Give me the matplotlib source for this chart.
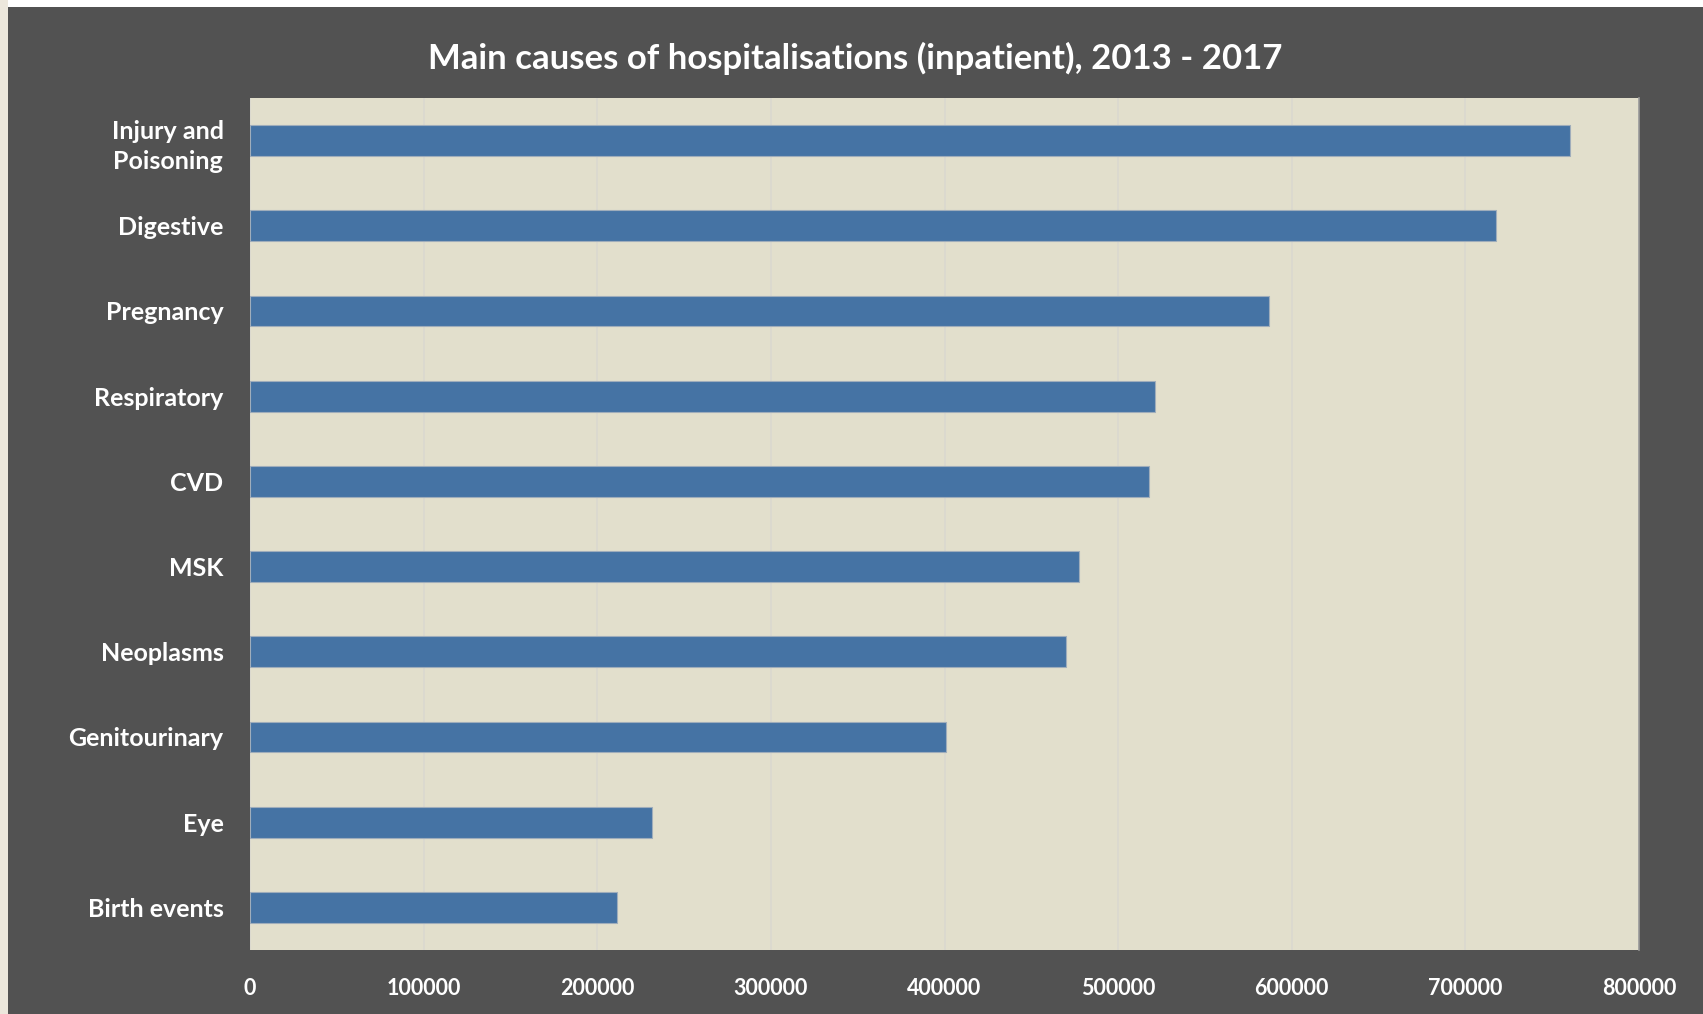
import matplotlib
matplotlib.use('Agg')
from matplotlib import pyplot as plt
from matplotlib.patches import Rectangle
import numpy as np

# 데이터
causes = ['Injury and\nPoisoning', 'Digestive', 'Pregnancy', 'Respiratory', 'CVD',
          'MSK', 'Neoplasms', 'Genitourinary', 'Eye', 'Birth events']
admissions = [760000, 717500, 587000, 521500, 517500,
              477500, 470000, 401000, 231800, 211500]
x_ticks = [0, 100000, 200000, 300000, 400000, 500000, 600000, 700000, 800000]

plt.rcParams['font.family'] = ['Lato', 'DejaVu Sans']

W, H = 1703, 1014
fig = plt.figure(figsize=(W / 100, H / 100), dpi=100)
fig.patch.set_facecolor('white')

# 배경 (왼쪽 베이지 띠 + 어두운 패널)
fig.patches.append(Rectangle((0, 0), 8 / W, 1, transform=fig.transFigure,
                             facecolor='#ece7dc', edgecolor='none', zorder=-2))
fig.patches.append(Rectangle((8 / W, 0), 1 - 8 / W, 1 - 7 / H, transform=fig.transFigure,
                             facecolor='#525252', edgecolor='none', zorder=-1))

ax = fig.add_axes([250 / W, 1 - 950 / H, (1639 - 250) / W, (950 - 98) / H])
ax.set_facecolor('#e2dfcc')

pos = np.arange(len(causes))
ax.barh(pos, admissions, height=0.36, color='#4573a4',
        edgecolor='#9fadbb', linewidth=0.8, zorder=3)

ax.set_xlim(0, 800000)
ax.set_ylim(len(causes) - 0.5, -0.5)
ax.set_xticks(x_ticks)
ax.set_xticklabels([str(v) for v in x_ticks])
ax.set_yticks(pos)
ax.set_yticklabels(causes)

ax.grid(axis='x', color='#dad8cf', linewidth=1.2, zorder=0)
ax.set_axisbelow(True)

for s in ['top', 'left', 'bottom']:
    ax.spines[s].set_visible(False)
ax.spines['right'].set_color('#9a9a9a')
ax.spines['right'].set_linewidth(1.2)

ax.tick_params(axis='both', length=0, colors='white')
ax.tick_params(axis='x', pad=20, labelsize=15.5)
ax.tick_params(axis='y', pad=19, labelsize=18)
for lab in ax.get_xticklabels() + ax.get_yticklabels():
    lab.set_fontweight('bold')
    lab.set_color('white')
for lab in ax.get_yticklabels():
    lab.set_horizontalalignment('right')
    lab.set_multialignment('center')
    lab.set_linespacing(1.4)

fig.text(855 / W, 1 - 58 / H, 'Main causes of hospitalisations (inpatient), 2013 - 2017',
         ha='center', va='center', color='white', fontsize=25, fontweight='bold')

fig.savefig('out.png', dpi=100, facecolor=fig.get_facecolor())
